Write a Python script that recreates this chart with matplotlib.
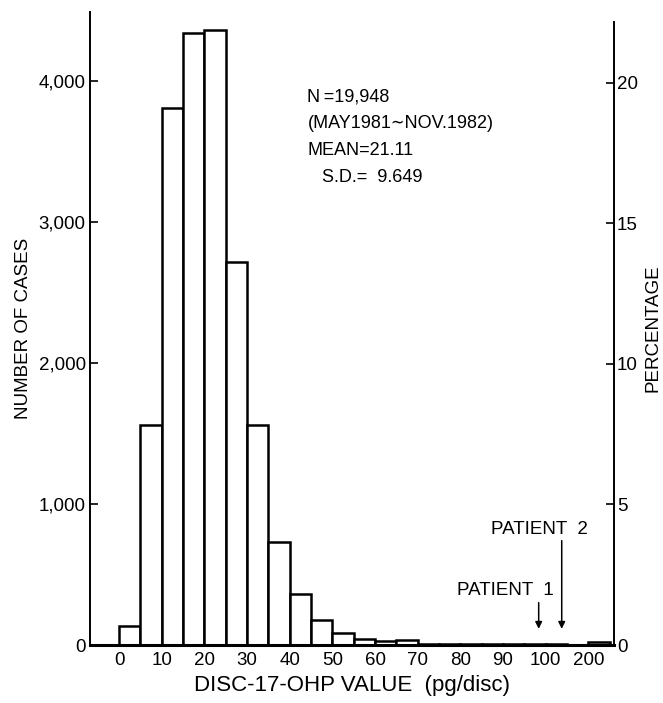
import matplotlib
matplotlib.use("Agg")
import matplotlib.pyplot as plt

# histogram of disc-17-OHP values, 23 bins drawn on an even grid
bin_labels = ["0-5", "5-10", "10-15", "15-20", "20-25", "25-30", "30-35", "35-40",
              "40-45", "45-50", "50-55", "55-60", "60-65", "65-70", "70-75", "75-80",
              "80-85", "85-90", "90-95", "95-100", "100-150", "150-200", ">200"]
counts = [134, 1561, 3810, 4343, 4362, 2720, 1561, 731,
          363, 175, 87, 45, 30, 32, 10, 8,
          8, 7, 6, 6, 8, 3, 20]
tick_pos = [0, 2, 4, 6, 8, 10, 12, 14, 16, 18, 20, 22]
tick_labels = ["0", "10", "20", "30", "40", "50", "60", "70", "80", "90", "100", "200"]
n_total = 19948
patient_x = [19.67, 20.75]   # bin-grid position of the two patients
patient_names = ["PATIENT  1", "PATIENT  2"]

narrow = ["Liberation Sans Narrow", "Liberation Sans", "DejaVu Sans"]
plain = ["Liberation Sans", "DejaVu Sans"]

fig = plt.figure(figsize=(6.63, 7.03), dpi=100)
ax = fig.add_axes([90 / 663, 1 - 645 / 703, (614 - 90) / 663, (645 - 12) / 703])

ax.bar(range(len(counts)), counts, width=1.0, align="edge",
       facecolor="white", edgecolor="black", linewidth=1.8, zorder=2)

ymax = 4490
ax.set_xlim(-1.36, 23.2)
ax.set_ylim(0, ymax)

ax.spines["top"].set_visible(False)
ax.spines["right"].set_visible(False)
ax.spines["left"].set_linewidth(1.4)
ax.spines["bottom"].set_linewidth(2.2)

ax.set_xticks(tick_pos)
ax.set_xticklabels(tick_labels, family=narrow, fontsize=13.5, fontstretch="condensed")
ax.tick_params(axis="x", length=0, pad=5)
ax.set_yticks([0, 1000, 2000, 3000, 4000])
ax.set_yticklabels(["0", "1,000", "2,000", "3,000", "4,000"], family=narrow,
                   fontsize=13.5, fontstretch="condensed")
ax.tick_params(axis="y", direction="in", length=6, width=1.2, pad=3)

ax.set_xlabel("DISC-17-OHP VALUE  (pg/disc)", family=plain, fontsize=16, labelpad=4)
ax.set_ylabel("NUMBER OF CASES", family=plain, fontsize=13.5, labelpad=5)

# percentage axis on the right
ax2 = ax.twinx()
ax2.set_ylim(0, ymax / n_total * 100)
for s in ["top", "left", "bottom"]:
    ax2.spines[s].set_visible(False)
ax2.spines["right"].set_linewidth(1.4)
ax2.spines["right"].set_bounds(0, (645 - 22) / 141 * 1000 / n_total * 100)
ax2.set_yticks([0, 5, 10, 15, 20])
ax2.set_yticklabels(["0", "5", "10", "15", "20"], family=narrow, fontsize=13.5,
                    fontstretch="condensed")
ax2.tick_params(axis="y", direction="in", length=6, width=1.2, pad=2)
ax2.set_ylabel("PERCENTAGE", family=plain, fontsize=13.5, labelpad=5)

# summary text
stats = ["N\u2009=19,948", "(MAY1981\u223cNOV.1982)", "MEAN=21.11", "   S.D.=  9.649"]
for i, line in enumerate(stats):
    ax.text(8.83, 3887 - i * 191, line, family=narrow, fontsize=13,
            fontstretch="condensed", va="center", ha="left")

# patient markers
ax.text(18.1, 390, patient_names[0], family=plain, fontsize=13.5, ha="center", va="center")
ax.text(19.7, 816, patient_names[1], family=plain, fontsize=13.5, ha="center", va="center")
ax.annotate("", xy=(patient_x[0], 95), xytext=(patient_x[0], 320),
            arrowprops=dict(arrowstyle="-|>", color="black", lw=1.1, mutation_scale=10))
ax.annotate("", xy=(patient_x[1], 95), xytext=(patient_x[1], 760),
            arrowprops=dict(arrowstyle="-|>", color="black", lw=1.1, mutation_scale=10))

fig.savefig("out.png", dpi=100)
